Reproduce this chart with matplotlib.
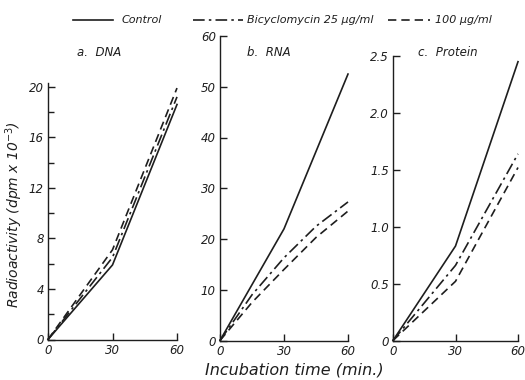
import matplotlib
matplotlib.use("Agg")
import matplotlib.pyplot as plt
from matplotlib.lines import Line2D

# ---- data ----
time = [0, 30, 60]
time_rna = [0, 15, 30, 45, 60]

dna_control = [0, 5.9, 18.6]
dna_25 = [0, 6.5, 19.2]
dna_100 = [0, 7.1, 19.9]

rna_control = [0, 22.0, 52.5]
rna_25 = [0, 9.0, 16.3, 22.5, 27.3]
rna_100 = [0, 7.5, 14.0, 20.3, 25.5]

prot_control = [0, 0.83, 2.45]
prot_25 = [0, 0.66, 1.64]
prot_100 = [0, 0.52, 1.52]

x_ticks = [0, 30, 60]
dna_ticks = [0, 4, 8, 12, 16, 20]
rna_ticks = [0, 10, 20, 30, 40, 50, 60]
prot_ticks = [0, 0.5, 1.0, 1.5, 2.0, 2.5]
prot_ticklabels = ["0", "0.5", "1.0", "1.5", "2.0", "2.5"]

legend_labels = ["Control", "Bicyclomycin 25 µg/ml", "100 µg/ml"]
panel_titles = ["a.  DNA", "b.  RNA", "c.  Protein"]

# ---- styling ----
ink = "#1e1e1e"
lw = 1.2
dashdot = (0, (7, 2.5, 1.5, 2.5))
dashed = (0, (5, 3))
plt.rcParams["font.family"] = ["DejaVu Sans"]
fs = 8.5
fs_leg = 8

fig = plt.figure(figsize=(5.25, 3.8), dpi=100)
W, H = 525, 380

def ax_px(x0, x1, ybot, ytop):
    return fig.add_axes([x0 / W, 1 - ybot / H, (x1 - x0) / W, (ybot - ytop) / H])

ax_a = ax_px(48, 177, 339.5, 83)
ax_b = ax_px(220, 348, 340.5, 36)
ax_c = ax_px(393, 518, 340.5, 56)

def style(ax, yticks, ylim, yticklabels=None, minor=None):
    ax.set_xlim(0, 60)
    ax.set_ylim(*ylim)
    for s in ["top", "right"]:
        ax.spines[s].set_visible(False)
    for s in ["left", "bottom"]:
        ax.spines[s].set_color(ink)
        ax.spines[s].set_linewidth(1.0)
    ax.set_xticks(x_ticks)
    ax.set_xticklabels([str(t) for t in x_ticks], fontsize=fs, style="italic", color=ink)
    ax.set_yticks(yticks)
    if yticklabels is None:
        yticklabels = [str(t) for t in yticks]
    ax.set_yticklabels(yticklabels, fontsize=fs, style="italic", color=ink)
    if minor is not None:
        ax.set_yticks(minor, minor=True)
    ax.tick_params(direction="in", length=5, width=1.0, color=ink, pad=3)
    ax.tick_params(which="minor", direction="in", length=4, width=1.0, color=ink)
    ax.patch.set_alpha(0)

def draw(ax, x_c, c, x_i, a, b):
    ax.plot(x_c, c, color=ink, lw=lw, linestyle="-", clip_on=False)
    ax.plot(x_i, a, color=ink, lw=lw, linestyle=dashdot, clip_on=False)
    ax.plot(x_i, b, color=ink, lw=lw, linestyle=dashed, clip_on=False)

draw(ax_a, time, dna_control, time, dna_25, dna_100)
draw(ax_b, time, rna_control, time_rna, rna_25, rna_100)
draw(ax_c, time, prot_control, time, prot_25, prot_100)

style(ax_a, dna_ticks, (0, 20.3), minor=[2, 6, 10, 14, 18])
style(ax_b, rna_ticks, (0, 60))
style(ax_c, prot_ticks, (0, 2.5), yticklabels=prot_ticklabels)

# panel titles
fig.text(77 / W, 1 - 53 / H, panel_titles[0], fontsize=fs, style="italic", color=ink, va="center", ha="left")
fig.text(247 / W, 1 - 53 / H, panel_titles[1], fontsize=fs, style="italic", color=ink, va="center", ha="left")
fig.text(418 / W, 1 - 53 / H, panel_titles[2], fontsize=fs, style="italic", color=ink, va="center", ha="left")

# legend (drawn at top across figure)
ly = 1 - 20 / H
fig.add_artist(Line2D([73 / W, 113 / W], [ly, ly], color=ink, lw=lw, linestyle="-"))
fig.text(122 / W, ly, legend_labels[0], fontsize=fs_leg, style="italic", color=ink, va="center", ha="left")
fig.add_artist(Line2D([193 / W, 243 / W], [ly, ly], color=ink, lw=lw, linestyle=dashdot))
fig.text(247 / W, ly, legend_labels[1], fontsize=fs_leg, style="italic", color=ink, va="center", ha="left")
fig.add_artist(Line2D([388 / W, 430 / W], [ly, ly], color=ink, lw=lw, linestyle=dashed))
fig.text(435 / W, ly, legend_labels[2], fontsize=fs_leg, style="italic", color=ink, va="center", ha="left")

# axis labels
fig.text(14 / W, 1 - 215 / H, "Radioactivity (dpm x 10$^{-3}$)", rotation=90, fontsize=10,
         style="italic", color=ink, va="center", ha="center")
fig.text(294 / W, 1 - 370 / H, "Incubation time (min.)", fontsize=11.5, style="italic",
         color=ink, va="center", ha="center")

fig.savefig("out.png", dpi=100, facecolor="white")
